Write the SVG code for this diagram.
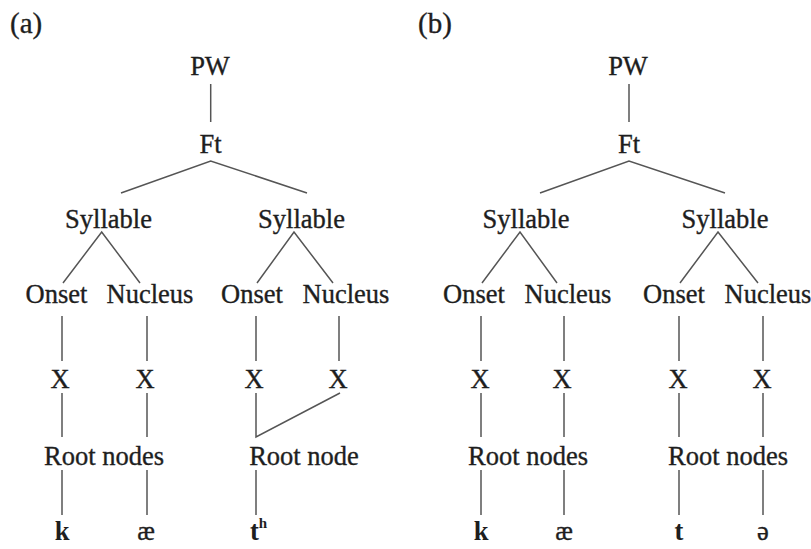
<svg xmlns="http://www.w3.org/2000/svg" width="811" height="549" viewBox="0 0 811 549">
<style>
text{font-family:'Liberation Serif','Tinos','Times New Roman','DejaVu Serif',serif;font-size:26.5px;fill:#1e1e1e;stroke:#1e1e1e;stroke-width:0.35;text-anchor:middle}
.lbl{text-anchor:start}
.hd{font-size:29px}
.b{font-weight:bold;stroke-width:0}
.sup{font-size:15px;font-weight:bold;stroke-width:0}
line,polyline{stroke:#555;stroke-width:1.5;fill:none}
</style>
<rect width="811" height="549" fill="#fff"/>
<g id="label-a"><text class="lbl hd" x="10" y="33">(a)</text></g>
<g id="label-b"><text class="lbl hd" x="418" y="33">(b)</text></g>
<g id="connectors">
<line x1="210.7" y1="84" x2="210.7" y2="122"/>
<polyline points="121,193 210.7,161 307,193"/>
<polyline points="63,283 101.7,232 140,283"/>
<polyline points="257,283 294,232 333,283"/>
<line x1="62" y1="316" x2="62" y2="361"/>
<line x1="147" y1="316" x2="147" y2="361"/>
<line x1="256" y1="316" x2="256" y2="361"/>
<line x1="339" y1="316" x2="339" y2="361"/>
<line x1="62" y1="393" x2="62" y2="437"/>
<line x1="147" y1="393" x2="147" y2="437"/>
<polyline points="256,393 256,437 340,393"/>
<line x1="62" y1="470" x2="62" y2="515"/>
<line x1="147" y1="470" x2="147" y2="515"/>
<line x1="256" y1="470" x2="256" y2="515"/>
<line x1="629" y1="84" x2="629" y2="122"/>
<polyline points="540,193 629,161 725,193"/>
<polyline points="482,283 520,232 557,283"/>
<polyline points="680,283 718,232 758,283"/>
<line x1="481" y1="316" x2="481" y2="361"/>
<line x1="564" y1="316" x2="564" y2="361"/>
<line x1="679" y1="316" x2="679" y2="361"/>
<line x1="763" y1="316" x2="763" y2="361"/>
<line x1="481" y1="393" x2="481" y2="437"/>
<line x1="564" y1="393" x2="564" y2="437"/>
<line x1="679" y1="393" x2="679" y2="437"/>
<line x1="763" y1="393" x2="763" y2="437"/>
<line x1="481" y1="470" x2="481" y2="515"/>
<line x1="564" y1="470" x2="564" y2="515"/>
<line x1="679" y1="470" x2="679" y2="515"/>
<line x1="763" y1="470" x2="763" y2="515"/>
</g>
<g id="a-pw"><text x="210" y="75">PW</text></g>
<g id="a-ft"><text x="210.5" y="153">Ft</text></g>
<g id="a-syl1"><text x="108.5" y="228">Syllable</text></g>
<g id="a-syl2"><text x="301.5" y="228">Syllable</text></g>
<g id="a-onset1"><text x="56.5" y="303">Onset</text></g>
<g id="a-nucleus1"><text x="150" y="303">Nucleus</text></g>
<g id="a-onset2"><text x="252" y="303">Onset</text></g>
<g id="a-nucleus2"><text x="346" y="303">Nucleus</text></g>
<g id="a-x1"><text x="60" y="388">X</text></g>
<g id="a-x2"><text x="145" y="388">X</text></g>
<g id="a-x3"><text x="254" y="388">X</text></g>
<g id="a-x4"><text x="338" y="388">X</text></g>
<g id="a-root1"><text x="104" y="465">Root nodes</text></g>
<g id="a-root2"><text x="304" y="465">Root node</text></g>
<g id="a-k"><text class="b" x="62" y="540">k</text></g>
<g id="a-ae"><text x="146" y="540">æ</text></g>
<g id="a-th"><text class="lbl b" x="250" y="540">t<tspan class="sup" dy="-12">h</tspan></text></g>
<g id="b-pw"><text x="628" y="75">PW</text></g>
<g id="b-ft"><text x="629" y="153">Ft</text></g>
<g id="b-syl1"><text x="526" y="228">Syllable</text></g>
<g id="b-syl2"><text x="725" y="228">Syllable</text></g>
<g id="b-onset1"><text x="474" y="303">Onset</text></g>
<g id="b-nucleus1"><text x="568" y="303">Nucleus</text></g>
<g id="b-onset2"><text x="674" y="303">Onset</text></g>
<g id="b-nucleus2"><text x="768" y="303">Nucleus</text></g>
<g id="b-x1"><text x="480" y="388">X</text></g>
<g id="b-x2"><text x="562" y="388">X</text></g>
<g id="b-x3"><text x="678" y="388">X</text></g>
<g id="b-x4"><text x="762" y="388">X</text></g>
<g id="b-root1"><text x="528" y="465">Root nodes</text></g>
<g id="b-root2"><text x="728" y="465">Root nodes</text></g>
<g id="b-k"><text class="b" x="481" y="540">k</text></g>
<g id="b-ae"><text x="564" y="540">æ</text></g>
<g id="b-t"><text class="b" x="679" y="540">t</text></g>
<g id="b-schwa"><text x="763" y="540">ə</text></g>
</svg>
